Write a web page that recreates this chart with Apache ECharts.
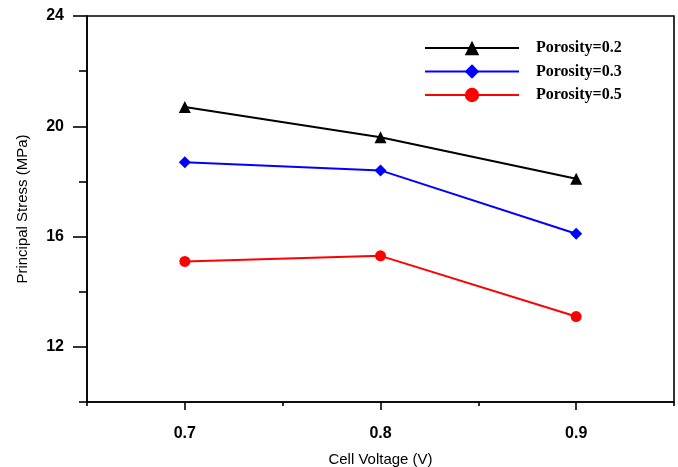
<!DOCTYPE html>
<html>
<head>
<meta charset="utf-8">
<script src="https://cdn.jsdelivr.net/npm/echarts@6/dist/echarts.min.js"></script>
<style>
  html, body { margin: 0; padding: 0; background: #fff; }
  #chart { width: 678px; height: 467px; }
</style>
</head>
<body>
<div id="chart"></div>
<script>
// Cell voltage on the x axis, principal stress for three porosities
const voltages = [0.7, 0.8, 0.9];
const porosity02 = [20.7, 19.6, 18.1];
const porosity03 = [18.7, 18.4, 16.1];
const porosity05 = [15.1, 15.3, 13.1];
const seriesNames = ['Porosity=0.2', 'Porosity=0.3', 'Porosity=0.5'];

const xMajorTicks = [0.7, 0.8, 0.9];
const xMinorTicks = [0.65, 0.75, 0.85, 0.95];
const yMajorTicks = [12, 16, 20, 24];
const yMinorTicks = [10, 14, 18, 22];

const pairs = (ys) => voltages.map((v, i) => [v, ys[i]]);

const chart = echarts.init(document.getElementById('chart'), null, { renderer: 'canvas' });

const axisFont = { fontFamily: 'Liberation Sans, Arial, sans-serif', fontSize: 15, color: '#000' };
const tickFont = { fontFamily: 'Liberation Sans, Arial, sans-serif', fontWeight: 'bold', fontSize: 16, color: '#000' };
const lineStyle = { color: '#000', width: 1.6 };

chart.setOption({
  animation: false,
  backgroundColor: '#fff',
  grid: {
    left: 87, right: 4, top: 16, bottom: 65,
    outerBoundsMode: 'none',
    show: true, borderColor: '#000', borderWidth: 1.6, backgroundColor: 'transparent'
  },
  legend: {
    orient: 'vertical',
    left: 419, top: 35,
    itemWidth: 94, itemHeight: 18, itemGap: 7.5,
    textStyle: {
      fontFamily: 'Liberation Serif, Times New Roman, serif',
      fontWeight: 'bold', fontSize: 16, color: '#000',
      padding: [0, 0, 0, 12]
    },
    data: seriesNames
  },
  xAxis: [
    {
      type: 'value', min: 0.65, max: 0.95,
      name: 'Cell Voltage (V)', nameLocation: 'middle', nameGap: 50,
      nameTextStyle: axisFont,
      axisLine: { show: true, lineStyle },
      axisTick: { show: true, inside: false, length: 8, lineStyle, customValues: xMajorTicks },
      axisLabel: Object.assign({ customValues: xMajorTicks, margin: 24, formatter: (v) => v.toFixed(1) }, tickFont),
      splitLine: { show: false }
    },
    {
      type: 'value', min: 0.65, max: 0.95, position: 'bottom',
      axisLine: { show: false },
      axisTick: { show: true, length: 4, lineStyle, customValues: xMinorTicks },
      axisLabel: { show: false },
      splitLine: { show: false }
    }
  ],
  yAxis: [
    {
      type: 'value', min: 10, max: 24,
      name: 'Principal Stress (MPa)', nameLocation: 'middle', nameGap: 57,
      nameTextStyle: axisFont,
      axisLine: { show: true, lineStyle },
      axisTick: { show: true, length: 14, lineStyle, customValues: yMajorTicks },
      axisLabel: Object.assign({ customValues: yMajorTicks, margin: 23 }, tickFont),
      splitLine: { show: false }
    },
    {
      type: 'value', min: 10, max: 24, position: 'left',
      axisLine: { show: false },
      axisTick: { show: true, length: 8, lineStyle, customValues: yMinorTicks },
      axisLabel: { show: false },
      splitLine: { show: false }
    }
  ],
  series: [
    {
      name: seriesNames[0], type: 'line', data: pairs(porosity02),
      symbol: 'triangle', symbolSize: 12,
      itemStyle: { color: '#000' }, lineStyle: { color: '#000', width: 2 }
    },
    {
      name: seriesNames[1], type: 'line', data: pairs(porosity03),
      symbol: 'diamond', symbolSize: 12,
      itemStyle: { color: '#0000ff' }, lineStyle: { color: '#0000ff', width: 2 }
    },
    {
      name: seriesNames[2], type: 'line', data: pairs(porosity05),
      symbol: 'circle', symbolSize: 11,
      itemStyle: { color: '#ff0000' }, lineStyle: { color: '#ff0000', width: 2 }
    }
  ]
});
</script>
</body>
</html>
